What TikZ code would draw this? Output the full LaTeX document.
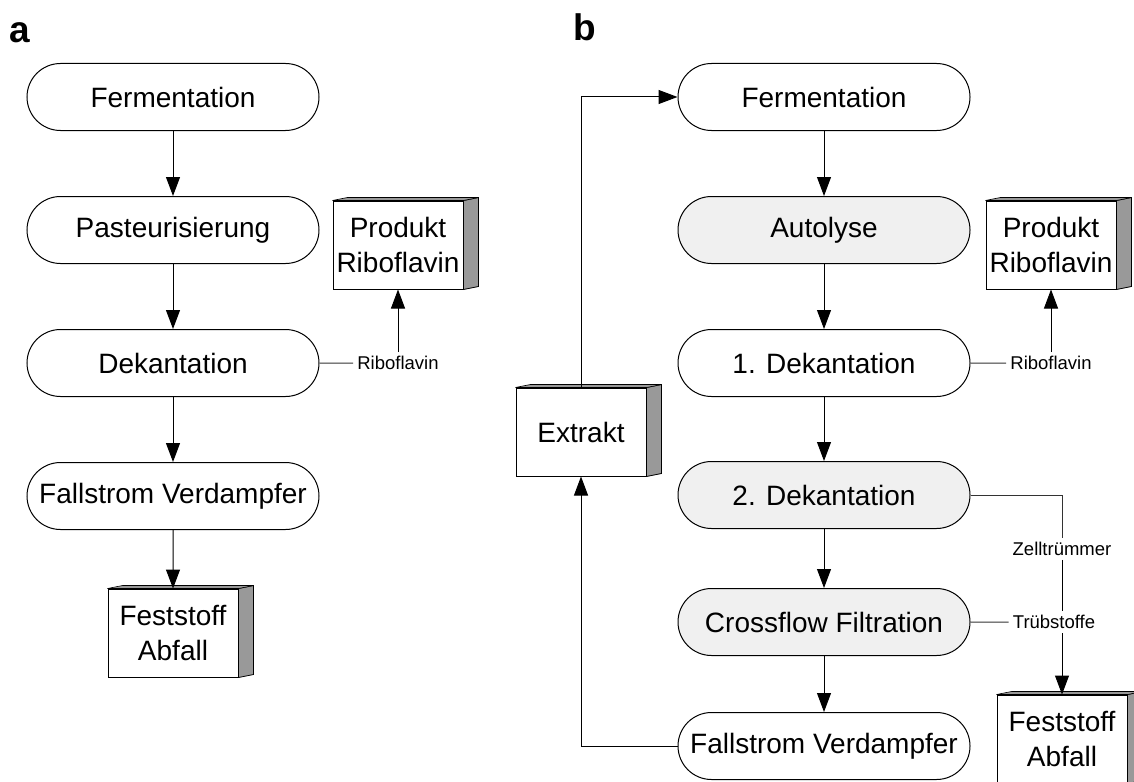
\documentclass[tikz,border=0pt]{standalone}
\usepackage{fontspec}
\setmainfont{Liberation Sans}
\usetikzlibrary{shapes.misc,arrows.meta,calc}

% 3D faces of a store box
\newcommand{\boxfaces}[1]{%
  \filldraw[fill=sidegray,line width=0.8pt]
    (#1.north east) -- ++(15,-3) -- ($(#1.south east)+(15,-3)$) -- (#1.south east) -- cycle;
  \filldraw[fill=sidegray,line width=0.6pt]
    (#1.north west) -- ++(15,-3) -- ($(#1.north east)+(15,-3)$) -- (#1.north east) -- cycle;
}

\begin{document}
\begin{tikzpicture}
		[x=1pt,y=-1pt,
		%Styles
		process/.style={rounded rectangle,draw,line width=1pt,minimum width=292pt,minimum height=67pt,inner sep=0pt,font=\fontsize{28}{33}\selectfont},
		shaded process/.style={process,fill=black!6},
		store box/.style={rectangle,draw,line width=1pt,fill=white,minimum width=130pt,minimum height=88pt,inner sep=0pt,align=center,font=\fontsize{28}{35}\selectfont},
		flow label/.style={inner sep=4pt,fill=white,font=\fontsize{18.5}{22}\selectfont},
		panel label/.style={anchor=base west,inner sep=0pt,font=\fontsize{37}{40}\selectfont\bfseries},
		flow/.style={-{Triangle[length=19pt,width=14pt]},line width=1pt},
		side line/.style={line width=1pt,draw=black!80}
		]
		
		%Colors
		\colorlet{sidegray}{black!40}	%box side faces
		
		\useasboundingbox (0,0) rectangle (1134,781);
		
		%Panel a
		\node[panel label] (labelA) at (9,43) {a};
		\node[process] (fermA) at (173,97) {Fermentation};
		\node[process] (pastA) at (173,230) {Pasteurisierung};
		\node[process] (dekA) at (173,363) {Dekantation};
		\node[process] (evapA) at (173,496) {Fallstrom Verdampfer};
		\node[store box] (wasteA) at (173,633) {Feststoff\\Abfall};
		\boxfaces{wasteA}
		\node[store box] (prodA) at (398,245) {Produkt\\Riboflavin};
		\boxfaces{prodA}
		\node[flow label] (ribA) at (398,363) {Riboflavin};
		
		\path[flow] (fermA) edge (pastA)
				(pastA) edge (dekA)
				(dekA) edge (evapA)
				(evapA) edge (wasteA);
		\draw[side line] (dekA) -- (ribA);
		\draw[flow] (ribA) -- (prodA);
		
		%Panel b
		\node[panel label] (labelB) at (573,41) {b};
		\node[process] (fermB) at (824,97) {Fermentation};
		\node[shaded process] (autoB) at (824,230) {Autolyse};
		\node[process] (dek1B) at (824,363) {1. Dekantation};
		\node[shaded process] (dek2B) at (824,495) {2. Dekantation};
		\node[shaded process] (crossB) at (824,622) {Crossflow Filtration};
		\node[process] (evapB) at (824,746) {Fallstrom Verdampfer};
		\node[store box] (extrB) at (581,432) {Extrakt};
		\boxfaces{extrB}
		\node[store box] (prodB) at (1051,245) {Produkt\\Riboflavin};
		\boxfaces{prodB}
		\node[store box] (wasteB) at (1062,739) {Feststoff\\Abfall};
		\boxfaces{wasteB}
		\node[flow label] (ribB) at (1051,363) {Riboflavin};
		\node[flow label] (zellB) at (1062,549) {Zelltrümmer};
		
		\path[flow] (fermB) edge (autoB)
				(autoB) edge (dek1B)
				(dek1B) edge (dek2B)
				(dek2B) edge (crossB)
				(crossB) edge (evapB);
		\draw[flow] (evapB) -| (extrB);
		\draw[flow] (extrB) |- (fermB);
		\draw[side line] (dek1B) -- (ribB);
		\draw[flow] (ribB) -- (prodB);
		\draw[side line] (dek2B) -| (zellB);
		\draw[flow] (zellB) -- (wasteB);
		\node[flow label] (truebB) at (1054,622) {Trübstoffe};
		\draw[side line] (crossB) -- (truebB);
	\end{tikzpicture}
\end{document}
